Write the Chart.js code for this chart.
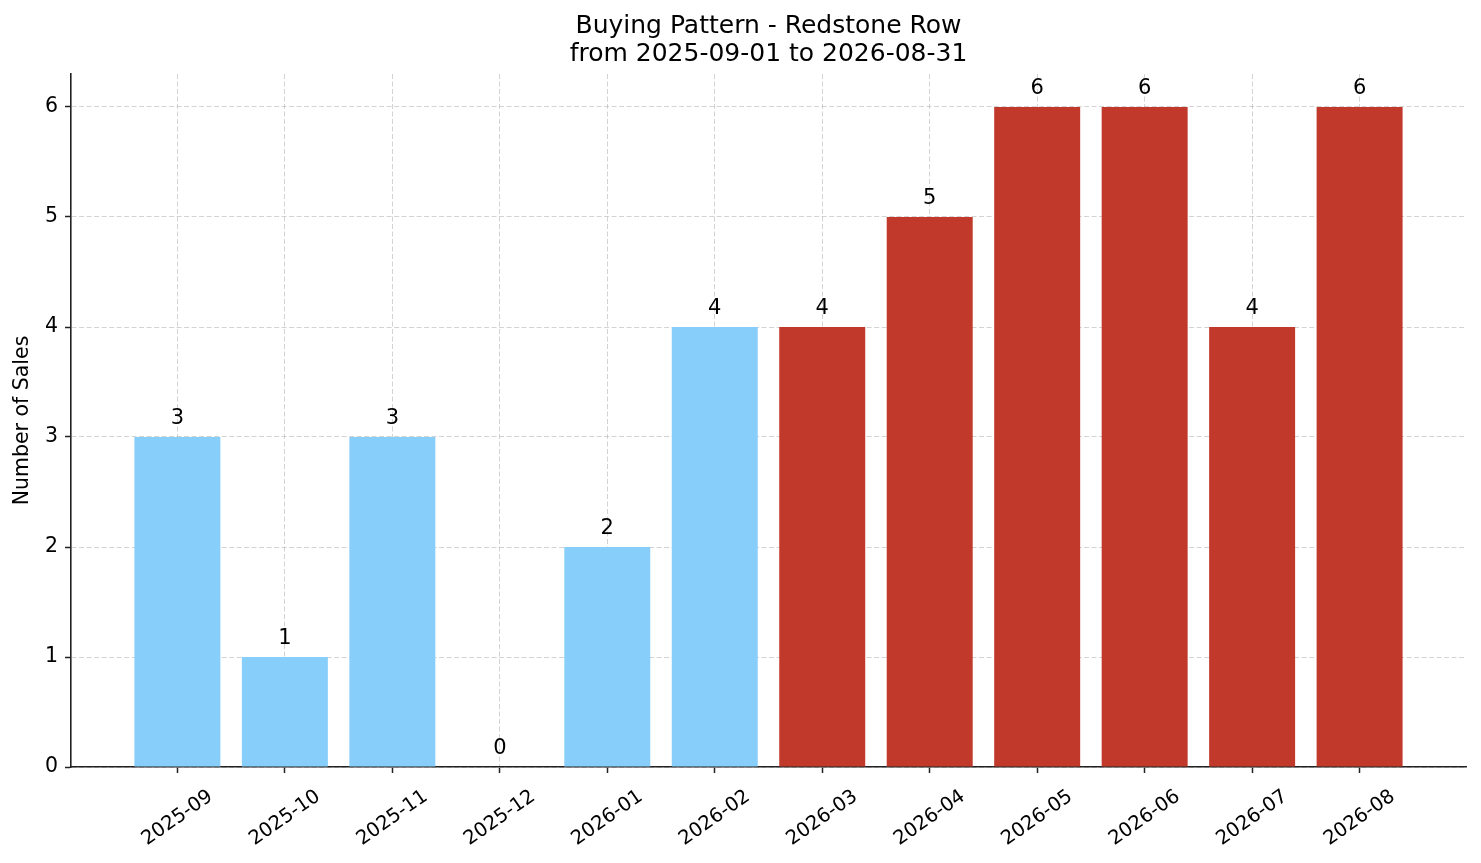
<!DOCTYPE html>
<html>
<head>
<meta charset="utf-8">
<script src="https://cdn.jsdelivr.net/npm/chart.js@4"></script>
<style>
  html, body { margin: 0; padding: 0; background: #fff; }
  #wrap { width: 1481px; height: 863px; }
</style>
</head>
<body>
<div id="wrap"><canvas id="salesChart" width="1481" height="863"></canvas></div>
<script>
// chart data
const months = ['2025-09', '2025-10', '2025-11', '2025-12', '2026-01', '2026-02',
                '2026-03', '2026-04', '2026-05', '2026-06', '2026-07', '2026-08'];
const sales = [3, 1, 3, 0, 2, 4, 4, 5, 6, 6, 4, 6];
const yTicks = [0, 1, 2, 3, 4, 5, 6];
const titleLines = ['Buying Pattern - Redstone Row', 'from 2025-09-01 to 2026-08-31'];
const yLabel = 'Number of Sales';
const firstForecast = 6; // months from here on are drawn red

const FONT = "'DejaVu Sans', sans-serif";
const INK = '#222';
const GRID = 'rgba(175,175,175,0.55)';

// draws title, y label, rotated month labels and value labels
const textPlugin = {
    id: 'textPlugin',
    afterDraw(chart) {
        const c = chart.ctx;
        const x = chart.scales.x;
        const y = chart.scales.y;
        c.save();
        c.fillStyle = '#000';

        // title
        c.font = '25px ' + FONT;
        c.textAlign = 'center';
        c.textBaseline = 'middle';
        const midX = (chart.chartArea.left + chart.chartArea.right) / 2;
        c.fillText(titleLines[0], midX, 26);
        c.fillText(titleLines[1], midX, 54);

        // y axis label
        c.font = '20.5px ' + FONT;
        c.save();
        c.translate(23, (chart.chartArea.top + chart.chartArea.bottom) / 2);
        c.rotate(-Math.PI / 2);
        c.fillText(yLabel, 0, 0);
        c.restore();

        // month labels
        c.font = '19.5px ' + FONT;
        months.forEach((m, i) => {
            c.save();
            c.translate(x.getPixelForValue(i), 818);
            c.rotate(-35 * Math.PI / 180);
            c.fillText(m, 0, 0);
            c.restore();
        });

        // value labels
        c.font = '21px ' + FONT;
        c.textBaseline = 'alphabetic';
        sales.forEach((v, i) => {
            c.fillText(String(v), x.getPixelForValue(i), y.getPixelForValue(v) - 13);
        });
        c.restore();
    }
};

const ctx = document.getElementById('salesChart').getContext('2d');
new Chart(ctx, {
    type: 'bar',
    data: {
        datasets: [{
            data: sales.map((v, i) => ({ x: i, y: v })),
            backgroundColor: ctx2 => ctx2.dataIndex < firstForecast ? '#87CEFA' : '#C0392B',
            borderWidth: 0,
            categoryPercentage: 1,
            barPercentage: 0.8
        }]
    },
    options: {
        responsive: false,
        animation: false,
        devicePixelRatio: 1,
        layout: { padding: { left: 0, right: 15, top: 74, bottom: 0 } },
        plugins: {
            legend: { display: false },
            tooltip: { enabled: false },
            title: { display: false }
        },
        scales: {
            x: {
                type: 'linear',
                min: -0.99,
                max: 11.99,
                offset: false,
                z: 1,
                afterFit: s => { s.height = 96; },
                grid: {
                    offset: false,
                    color: GRID,
                    lineWidth: 1,
                    tickLength: 6,
                    tickColor: INK,
                    tickWidth: 1.5
                },
                border: { display: true, color: INK, width: 1.6, dash: [5, 2.5] },
                ticks: {
                    stepSize: 1,
                    includeBounds: false,
                    autoSkip: false,
                    maxRotation: 0,
                    callback: () => ''
                }
            },
            y: {
                min: 0,
                max: 6.3,
                z: 1,
                afterFit: s => { s.width = 71; },
                afterBuildTicks: s => { s.ticks = yTicks.map(v => ({ value: v })); },
                grid: {
                    color: GRID,
                    lineWidth: 1,
                    tickLength: 6,
                    tickColor: INK,
                    tickWidth: 1.5
                },
                border: { display: true, color: INK, width: 1.6, dash: [5, 2.5] },
                ticks: {
                    color: '#000',
                    padding: 7,
                    font: { family: FONT, size: 20.5 }
                }
            }
        }
    },
    plugins: [textPlugin]
});
</script>
</body>
</html>
